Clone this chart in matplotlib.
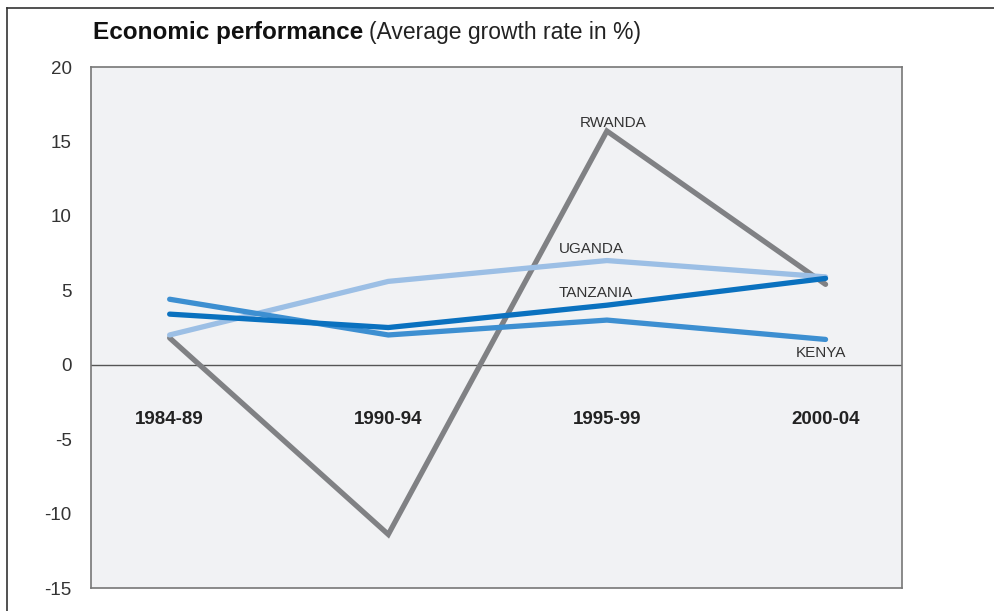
import matplotlib
matplotlib.use("Agg")
import matplotlib.pyplot as plt
from matplotlib.lines import Line2D

plt.rcParams["font.family"] = ["Liberation Sans", "DejaVu Sans"]

periods = ["1984-89", "1990-94", "1995-99", "2000-04"]
rwanda = [1.8, -11.4, 15.7, 5.4]
uganda = [2.0, 5.6, 7.0, 5.9]
tanzania = [3.4, 2.5, 4.0, 5.8]
kenya = [4.4, 2.0, 3.0, 1.7]

series = [
    ("RWANDA", rwanda, "#808184"),
    ("UGANDA", uganda, "#9cbfe5"),
    ("KENYA", kenya, "#3d8fd1"),
    ("TANZANIA", tanzania, "#0a71bf"),
]

fig = plt.figure(figsize=(9.94, 6.11), dpi=100)
ax = fig.add_axes([0.0915, 0.0376, 0.816, 0.8527])
ax.set_facecolor("#f1f2f4")

x = list(range(len(periods)))
order = {"RWANDA": 1, "UGANDA": 2, "KENYA": 3, "TANZANIA": 4}
for name, vals, col in series:
    ax.plot(x, vals, color=col, lw=3.8, solid_capstyle="round",
            solid_joinstyle="miter", zorder=order[name] + 2)

ax.axhline(0, color="#555555", lw=1.0, zorder=2)

ax.set_xlim(-0.36, 3.35)
ax.set_ylim(-15, 20)
ax.set_yticks([-15, -10, -5, 0, 5, 10, 15, 20])
ax.set_yticklabels(["-15", "-10", "-5", "0", "5", "10", "15", "20"])
ax.tick_params(axis="y", length=0, pad=14, labelsize=13.5, labelcolor="#333333")
ax.set_xticks([])
for s in ax.spines.values():
    s.set_color("#777777")
    s.set_linewidth(1.2)

for i, p in enumerate(periods):
    ax.text(i, -3.7, p, ha="center", va="center", fontsize=13.5,
            fontweight="bold", color="#222222")

lab_kw = dict(fontsize=11, color="#333333", zorder=10)
ax.text(2.03, rwanda[2] + 0.1, "RWANDA", ha="center", va="bottom", **lab_kw)
ax.text(1.93, 7.8, "UGANDA", ha="center", va="center", **lab_kw)
ax.text(1.95, 4.8, "TANZANIA", ha="center", va="center", **lab_kw)
ax.text(2.98, 0.8, "KENYA", ha="center", va="center", **lab_kw)

t1 = fig.text(0.0935, 0.947, "Economic performance", fontsize=17.5,
              fontweight="bold", color="#111111", va="center", ha="left")
fig.canvas.draw()
bb = t1.get_window_extent(renderer=fig.canvas.get_renderer())
x_end = bb.x1 / fig.bbox.width
fig.text(x_end + 0.006, 0.947, "(Average growth rate in %)", fontsize=16.5,
         color="#222222", va="center", ha="left")

fig.add_artist(Line2D([0.007, 0.007], [0.0, 0.987], transform=fig.transFigure,
                      color="#333333", lw=1.2))
fig.add_artist(Line2D([0.007, 1.0], [0.987, 0.987], transform=fig.transFigure,
                      color="#333333", lw=1.2))

fig.savefig("out.png", dpi=100, facecolor="white")
